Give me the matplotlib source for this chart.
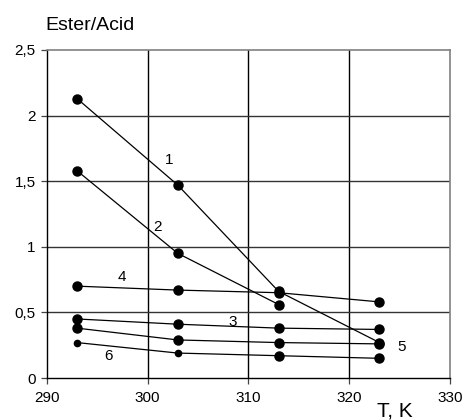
import matplotlib
matplotlib.use("Agg")
import matplotlib.pyplot as plt
from matplotlib.ticker import FuncFormatter

plt.rcParams['font.family'] = ['Liberation Sans', 'DejaVu Sans']

T = [293, 303, 313, 323]
s1 = [2.13, 1.47, 0.66, 0.27]
s2 = [1.58, 0.95, 0.56]
s3 = [0.45, 0.41, 0.38, 0.37]
s4 = [0.70, 0.67, 0.65, 0.58]
s5 = [0.38, 0.29, 0.27, 0.26]
s6 = [0.27, 0.19, 0.17, 0.15]
series_labels = ['1', '2', '3', '4', '5', '6']
x_ticks = [290, 300, 310, 320, 330]
y_ticks = [0, 0.5, 1, 1.5, 2, 2.5]

fig = plt.figure(figsize=(4.63, 4.2), dpi=100)
ax = fig.add_axes([0.1009, 0.1, 0.8711, 0.781])

all_series = [s1, s2, s3, s4, s5, s6]
for s in all_series:
    xs = T[:len(s)]
    ax.plot(xs, s, color='black', lw=0.9, zorder=3)
# markers
for s in [s1, s2, s3, s4, s5]:
    ax.plot(T[:len(s)], s, 'o', color='black', ms=6.5, zorder=4)
ax.plot(T[:2], s6[:2], 'o', color='black', ms=4.5, zorder=4)
ax.plot(T[2:], s6[2:], 'o', color='black', ms=6.5, zorder=4)

# curve labels
lab_pos = [(302.1, 1.66), (301.0, 1.15), (308.4, 0.43), (297.5, 0.77), (325.2, 0.236), (296.1, 0.17)]
for lab, (x, y) in zip(series_labels, lab_pos):
    ax.text(x, y, lab, fontsize=11, ha='center', va='center', zorder=5)

ax.set_xlim(290, 330)
ax.set_ylim(0, 2.5)
ax.set_xticks(x_ticks)
ax.set_yticks(y_ticks)
ax.yaxis.set_major_formatter(FuncFormatter(lambda v, p: ('%g' % v).replace('.', ',')))
ax.tick_params(axis='both', direction='out', length=4, width=0.9, labelsize=11, color='#444444')
ax.tick_params(axis='x', pad=5)
ax.tick_params(axis='y', pad=4)

for x in x_ticks[1:-1]:
    ax.axvline(x, color='black', lw=1.0, zorder=1)
for y in y_ticks[1:-1]:
    ax.axhline(y, color='#333333', lw=1.0, zorder=1)

for sp in ['left', 'bottom']:
    ax.spines[sp].set_color('black')
    ax.spines[sp].set_linewidth(1.0)
for sp in ['top', 'right']:
    ax.spines[sp].set_color('#808080')
    ax.spines[sp].set_linewidth(1.2)

fig.text(45 / 463, 1 - 25 / 420, 'Ester/Acid', fontsize=14, ha='left', va='center')
fig.text(377 / 463, 1 - 411 / 420, 'T, K', fontsize=15, ha='left', va='center')

fig.savefig('out.png', dpi=100)
